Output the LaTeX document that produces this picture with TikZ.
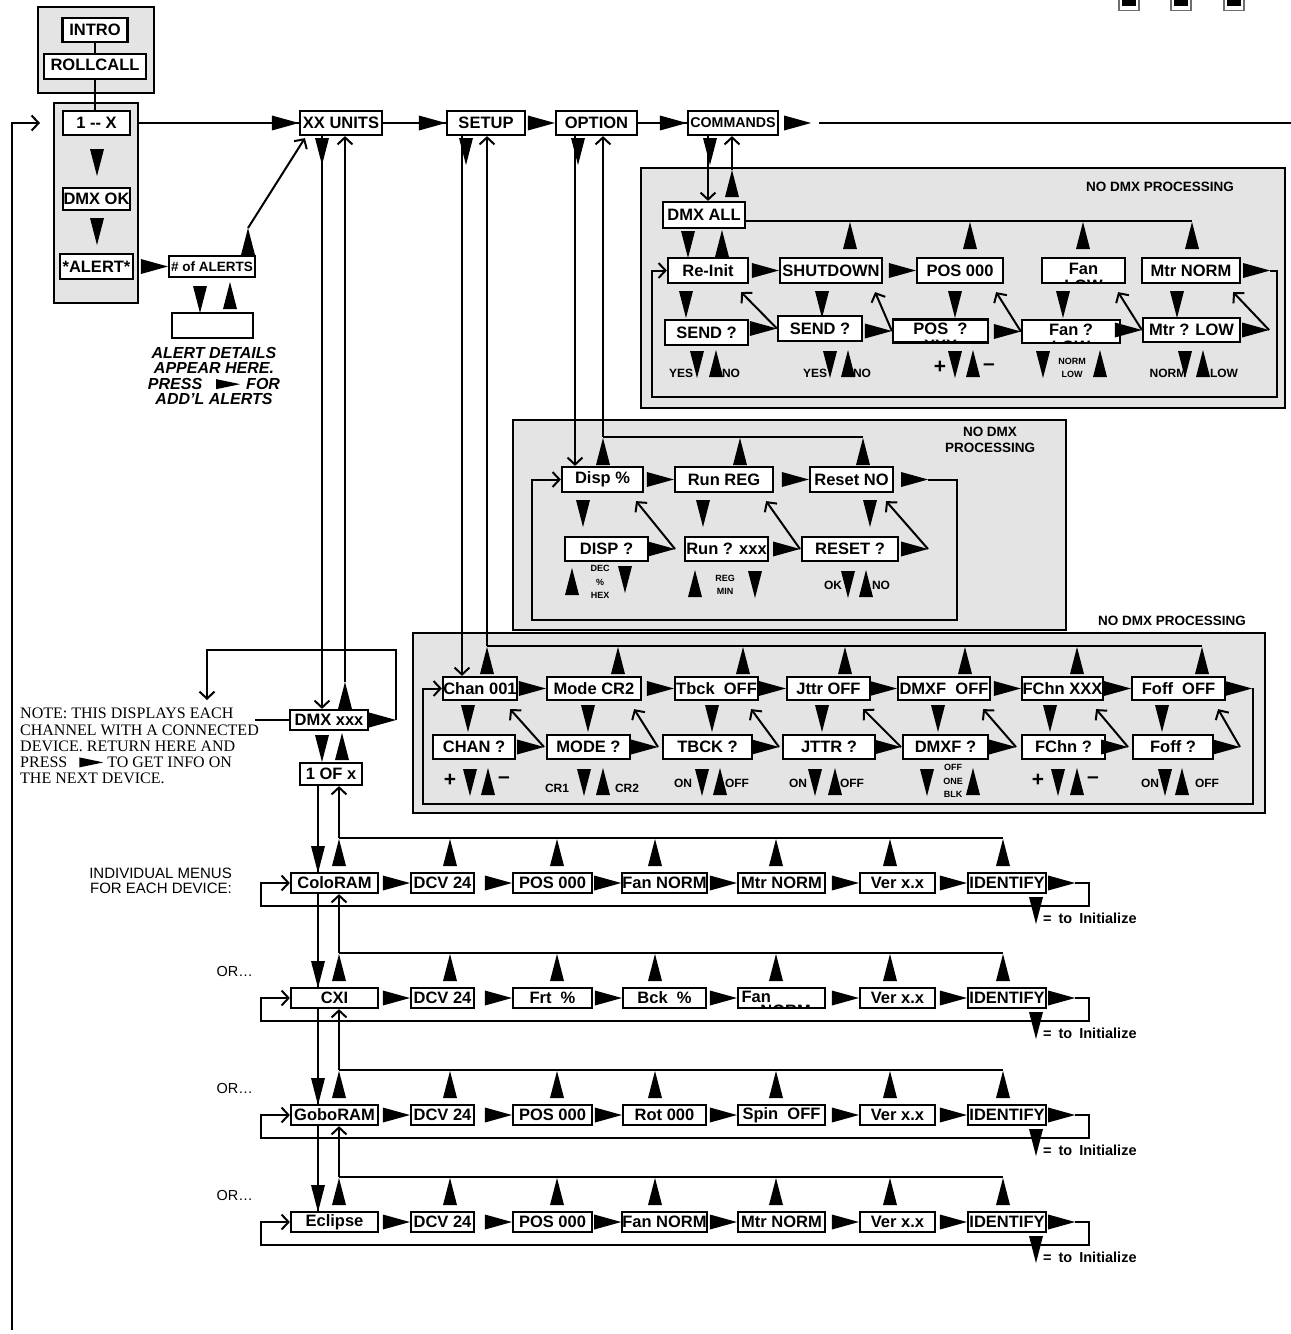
\documentclass[tikz,border=0pt]{standalone}
\usepackage{fontspec}
\setmainfont{Liberation Serif}
\setsansfont{Liberation Sans}
\usetikzlibrary{arrows.meta,positioning,calc}
\definecolor{PanelGray}{RGB}{228,228,228}
\definecolor{KeyGray}{RGB}{110,110,110}
\newcommand{\menufont}{\sffamily\bfseries\fontsize{16.5}{17}\selectfont}
\newcommand{\nexticon}{\tikz[x=1pt,y=1pt,baseline=0pt]\fill (0,0) -- (0,10) -- (24,5) -- cycle;}

\tikzset{
  box/.style={draw, line width=2.2pt, fill=white, inner sep=0pt, minimum height=24, font=\menufont},
  panel/.style={draw, line width=2.4pt, fill=PanelGray},
  wire/.style={line width=2pt},
  backarrow/.style={wire, -{Straight Barb[length=7pt,width=15pt]}},
  paneltitle/.style={font=\sffamily\bfseries\fontsize{13.5}{16}\selectfont, inner sep=0pt, align=center},
  lbl/.style={font=\sffamily\bfseries\fontsize{12}{12}\selectfont, inner sep=0pt},
  smalllbl/.style={font=\sffamily\bfseries\fontsize{9}{13.5}\selectfont, inner sep=0pt, align=center},
  pmsign/.style={font=\sffamily\bfseries\fontsize{21}{21}\selectfont, inner sep=0pt},
  initlbl/.style={font=\sffamily\bfseries\fontsize{14.5}{15}\selectfont, inner sep=0pt, anchor=west},
  cutline/.style={path picture={\node[font=\menufont, inner sep=0pt] at ([yshift=-15pt]path picture bounding box.center) {#1};}},
  cutlineleft/.style={path picture={\node[font=\menufont, inner sep=0pt, anchor=west] at ([xshift=3pt,yshift=-13pt]path picture bounding box.west) {#1};}},
  pics/rtri/.style={code={\fill (0,0) -- (-27,-7.5) -- (-27,7.5) -- cycle;}},
  pics/dtri/.style={code={\fill (0,0) -- (-7,-27) -- (7,-27) -- cycle;}},
  pics/utri/.style={code={\fill (0,0) -- (-7,27) -- (7,27) -- cycle;}},
}

\begin{document}
\begin{tikzpicture}[x=1pt, y=-1pt]
  \useasboundingbox (0,0) rectangle (1291,1334);

  % Keys (top right)
  \foreach \x [count=\i] in {1129,1181,1234} {
    \node[draw=KeyGray, line width=1.5pt, fill=white, inner sep=0pt, minimum width=20, minimum height=15] (key\i) at (\x,3) {};
    \fill (\x-7,-2) rectangle (\x+7,6);
  }

  % Power up
  \draw[panel] (38,7) rectangle (154,93);
  \node[box, minimum width=65] (intro) at (95,30) {INTRO};
  \node[box, minimum width=102, minimum height=25] (rollcall) at (95,66.5) {\raisebox{4pt}{ROLLCALL}};
  \draw[wire] (intro.south) -- (rollcall.north);
  \draw[panel] (54,103) rectangle (138,303);
  \node[box, minimum width=67] (onex) at (96.5,123) {1 -{}- X};
  \node[box, minimum width=67, minimum height=22] (dmxok) at (96.5,199) {DMX OK};
  \node[box, minimum width=73, minimum height=25] (alert) at (96.5,266.5) {*ALERT*};
  \draw[wire] (rollcall.south) -- (rollcall.south |- onex.north);
  \pic at (97,176) {dtri};
  \pic at (97,245) {dtri};

  % Return path from the bottom
  \coordinate (retstart) at (12,1330);
  \coordinate (retend) at (40,123);
  \draw[backarrow] (retstart) |- (retend);

  % Main menu
  \node[box, minimum width=82] (xx) at (341,123) {XX UNITS};
  \node[box, minimum width=78] (setup) at (486,123) {SETUP};
  \node[box, minimum width=81] (option) at (596.5,123) {OPTION};
  \node[box, minimum width=90, font=\sffamily\bfseries\fontsize{14.2}{15}\selectfont] (commands) at (733,123) {COMMANDS};
  \draw[wire] (onex.east -| 138,0) -- (xx.west);
  \pic at (xx.west) {rtri};
  \draw[wire] (xx.east) -- (setup.west);
  \pic at (setup.west) {rtri};
  \pic at (option.west) {rtri};
  \draw[wire] (option.east) -- (commands.west);
  \pic at (commands.west) {rtri};
  \coordinate (cmdtip) at ([xshift=32pt]commands.east);
  \pic at (cmdtip) {rtri};
  \coordinate (nextpage) at (1291,123);
  \draw[wire] ([xshift=8pt]cmdtip) -- (nextpage);

  % Alerts
  \node[box, minimum width=86, minimum height=21, font=\sffamily\bfseries\fontsize{13.5}{14}\selectfont] (alerts) at (212,266.5) {\# of ALERTS};
  \pic at (alerts.west) {rtri};
  \node[box, minimum width=81, minimum height=25] (details) at (212.5,325.5) {};
  \pic at (200,313) {dtri};
  \pic at (230,282) {utri};
  \node[font=\sffamily\bfseries\itshape\fontsize{16}{15.3}\selectfont, align=center, inner sep=0pt] (detailtext) at (214,376)
    {ALERT DETAILS\\APPEAR HERE.\\PRESS\hspace{14pt}\nexticon\hspace{6pt}FOR\\ADD’L ALERTS};
  \coordinate (alertsup) at (248,228);
  \pic at (alertsup) {utri};
  \draw[backarrow] (alertsup) -- ([xshift=6pt,yshift=-2pt]xx.south west);

  % Commands menu
  \draw[panel] (641,168) rectangle (1285,408);
  \node[paneltitle] (cmdtitle) at (1160,187) {NO DMX PROCESSING};
  \node[box, minimum width=82, minimum height=26] (dmxall) at (704,215) {DMX ALL};
  \pic at (710,165) {dtri};
  \draw[backarrow] (commands.south -| 708,0) -- (dmxall.north -| 708,0);
  \pic at (732,170) {utri};
  \draw[backarrow] (732,170) -- (commands.south -| 732,0);
  \coordinate (cmdret) at (1192,221);
  \draw[wire] (dmxall.east |- cmdret) -- (cmdret);
  \foreach \x in {850,970,1083,1192} \pic at (\x,222) {utri};
  \pic at (688,258) {dtri};
  \pic at (722,230) {utri};

  \node[box, minimum width=80, minimum height=25] (reinit) at (708,270.5) {Re-Init};
  \node[box, minimum width=102, minimum height=25] (shutdown) at (831,270.5) {SHUTDOWN};
  \node[box, minimum width=86, minimum height=25] (pos) at (960,270.5) {POS 000};
  \node[box, minimum width=83, minimum height=25, cutline=LOW] (fan) at (1083.5,270.5) {\raisebox{4pt}{Fan}};
  \node[box, minimum width=98, minimum height=25] (mtr) at (1191,270.5) {Mtr NORM};
  \pic at (shutdown.west) {rtri};
  \pic at (pos.west) {rtri};
  \coordinate (mtrtip) at ([xshift=29pt]mtr.east);
  \pic at (mtrtip) {rtri};
  \coordinate (cmdloopr) at (1277,397);
  \coordinate (cmdloopl) at (652,397);
  \draw[backarrow] (mtrtip) -| (cmdloopr) -- (cmdloopl) |- (reinit.west);
  \foreach \x in {686,822,955,1063,1177} \pic at (\x,318) {dtri};

  \node[box, minimum width=83, minimum height=25] (sendq) at (706.5,332.5) {SEND ?};
  \node[box, minimum width=84, minimum height=25] (sendb) at (820,328.5) {SEND ?};
  \node[box, minimum width=95, minimum height=23, cutline=XXX] (posq) at (940.5,331) {\raisebox{4pt}{POS\ \ ?}};
  \node[box, minimum width=98, minimum height=23, cutline=LOW] (fanq) at (1071,331.5) {\raisebox{4pt}{Fan ?}};
  \node[box, minimum width=97, minimum height=24] (mtrq) at (1191.5,330) {Mtr ? LOW};
  \foreach \nm/\parent in {sendb/reinit, posq/shutdown, fanq/pos, mtrq/fan} {
    \pic at (\nm.west) {rtri};
    \draw[backarrow] (\nm.west) -- ([shift={(-8pt,-8pt)}]\parent.south east);
  }
  \coordinate (mtrqtip) at ([xshift=28pt]mtrq.east);
  \pic at (mtrqtip) {rtri};
  \draw[backarrow] (mtrqtip) -- ([shift={(-8pt,-8pt)}]mtr.south east);

  \foreach \x/\txt [count=\i] in {681/YES,731/NO,815/YES,862/NO,1168/NORM,1224/LOW}
    \node[lbl] (cmdopt\i) at (\x,373) {\txt};
  \node[pmsign] (cmdplus) at (940,367) {+};
  \node[pmsign] (cmdminus) at (989,367) {–};
  \node[smalllbl] (fanopts) at (1072,368) {NORM\\LOW};
  \foreach \x in {697,830,955,1043,1185} \pic at (\x,378) {dtri};
  \foreach \x in {716,848,973,1100,1203} \pic at (\x,350) {utri};

  % Option menu
  \draw[panel] (513,420) rectangle (1066,630);
  \node[paneltitle] (opttitle) at (990,440) {NO DMX\\PROCESSING};
  \foreach \nm/\txt/\cx/\w in {disp/Disp \%/602.5/81, run/Run REG/724/98, reset/Reset NO/851.5/83}
    \node[box, minimum width=\w, minimum height=25] (\nm) at (\cx,479.5) {\txt};
  \pic at (578,165) {dtri};
  \draw[backarrow] (option.south -| 575,0) -- (disp.north -| 575,0);
  \coordinate (optret) at (603,437);
  \coordinate (optretend) at (863,437);
  \draw[wire] (optret) -- (optretend);
  \draw[backarrow] (optret) -- (option.south -| optret);
  \foreach \x in {603,740,863} \pic at (\x,438) {utri};
  \pic at (run.west) {rtri};
  \pic at (reset.west) {rtri};
  \coordinate (opttip) at ([xshift=34pt]reset.east);
  \pic at (opttip) {rtri};
  \coordinate (optloopr) at (957,620);
  \coordinate (optloopl) at (532,620);
  \draw[backarrow] (opttip) -| (optloopr) -- (optloopl) |- (disp.west);
  \foreach \x in {583,703,870} \pic at (\x,527) {dtri};

  \foreach \nm/\txt/\cx/\w in {dispq/DISP ?/606.5/83, runq/Run ? xxx/726.5/83, resetq/RESET ?/850/96}
    \node[box, minimum width=\w, minimum height=24] (\nm) at (\cx,549) {\txt};
  \foreach \tipx/\parent in {675/disp, 800/run, 928/reset} {
    \pic at (\tipx,549) {rtri};
    \draw[backarrow] (\tipx,549) -- ([shift={(-8pt,-8pt)}]\parent.south east);
  }
  \pic at (572,568) {utri};
  \node[smalllbl] (dispopts) at (600,582) {DEC\\\%\\HEX};
  \pic at (625,593) {dtri};
  \pic at (695,570) {utri};
  \node[smalllbl] (runopts) at (725,585) {REG\\MIN};
  \pic at (755,598) {dtri};
  \node[lbl] (resetok) at (833,585) {OK};
  \pic at (848,598) {dtri};
  \pic at (866,570) {utri};
  \node[lbl] (resetno) at (881,585) {NO};

  % Setup menu
  \draw[panel] (413,633) rectangle (1265,813);
  \node[paneltitle] (setuptitle) at (1172,621) {NO DMX PROCESSING};
  \foreach \nm/\txt/\cx/\w in {chan/Chan 001/480/74, mode/Mode CR2/594/94, tbck/Tbck\ \ OFF/716.5/83, jttr/Jttr OFF/828.5/83,
                              dmxf/DMXF\ \ OFF/944/92, fchn/FChn XXX/1062.5/81, foff/Foff\ \ OFF/1178.5/93}
    \node[box, minimum width=\w, minimum height=23] (\nm) at (\cx,688.5) {\txt};
  \pic at (466,165) {dtri};
  \draw[backarrow] (setup.south -| 462,0) -- (chan.north -| 462,0);
  \coordinate (setupret) at (487,646);
  \coordinate (setupretend) at (1202,646);
  \draw[wire] (setupret) -- (setupretend);
  \draw[backarrow] (setupret) -- (setup.south -| setupret);
  \foreach \x in {487,618,743,845,965,1077,1202} \pic at (\x,647) {utri};
  \foreach \nm in {mode,tbck,jttr,dmxf,fchn,foff} \pic at (\nm.west) {rtri};
  \coordinate (setuptip) at ([xshift=26pt]foff.east);
  \pic at (setuptip) {rtri};
  \coordinate (setuploopr) at (1253,804);
  \coordinate (setuploopl) at (423,804);
  \draw[backarrow] (setuptip) -| (setuploopr) -- (setuploopl) |- (chan.west);
  \foreach \x in {468,588,712,822,938,1050,1162} \pic at (\x,732) {dtri};

  \foreach \nm/\txt/\cx/\w in {chanq/CHAN ?/474/82, modeq/MODE ?/588.5/83, tbckq/TBCK ?/707.5/89, jttrq/JTTR ?/829/92,
                              dmxfq/DMXF ?/945.5/85, fchnq/FChn ?/1063.5/83, foffq/Foff ?/1173/80}
    \node[box, minimum width=\w, minimum height=24] (\nm) at (\cx,747) {\txt};
  \foreach \tipx/\parent in {544/chan, 658/mode, 779/tbck, 901/jttr, 1016/dmxf, 1128/fchn, 1240/foff} {
    \pic at (\tipx,747) {rtri};
    \draw[backarrow] (\tipx,747) -- ([shift={(-8pt,-8pt)}]\parent.south east);
  }
  \foreach \x/\txt [count=\i] in {557/CR1,627/CR2}
    \node[lbl] (modeopt\i) at (\x,788) {\txt};
  \foreach \x/\txt [count=\i] in {683/ON,737/OFF,798/ON,852/OFF,1150/ON,1207/OFF}
    \node[lbl] (swopt\i) at (\x,783) {\txt};
  \foreach \x/\txt [count=\i] in {450/+,504/–,1038/+,1093/–}
    \node[pmsign] (setsign\i) at (\x,780) {\txt};
  \node[smalllbl] (dmxfopts) at (953,781) {OFF\\ONE\\BLK};
  \foreach \x in {470,584,702,815,927,1058,1165} \pic at (\x,796) {dtri};
  \foreach \x in {488,603,720,835,973,1077,1182} \pic at (\x,768) {utri};

  % DMX channel list
  \node[box, minimum width=78, minimum height=20] (dmx) at (329,720) {DMX xxx};
  \pic at (322,165) {dtri};
  \draw[backarrow] (xx.south -| 322,0) -- (dmx.north -| 322,0);
  \pic at (345,682) {utri};
  \draw[backarrow] (345,682) -- (xx.south -| 345,0);
  \coordinate (dmxtip) at ([xshift=27pt]dmx.east);
  \pic at (dmxtip) {rtri};
  \coordinate (dmxloop) at (207,650);
  \coordinate (dmxback) at (207,700);
  \draw[backarrow] (dmxtip) |- (dmxloop) -- (dmxback);
  \node[anchor=north west, align=left, inner sep=0pt, font=\rmfamily\fontsize{16}{16.2}\selectfont] (note) at (20,708)
    {NOTE: THIS DISPLAYS EACH\\CHANNEL WITH A CONNECTED\\DEVICE. RETURN HERE AND\\PRESS\hspace{12pt}\nexticon\hspace{4pt}TO GET INFO ON\\THE NEXT DEVICE.};
  \coordinate (noteptr) at (255,720);
  \draw[wire] (noteptr) -- (dmx.west);
  \pic at (322,762) {dtri};
  \pic at (342,733) {utri};
  \node[box, minimum width=62, minimum height=22] (oneof) at (331,774) {1 OF x};

  % Device menus
  \node[anchor=east, align=right, inner sep=0pt, font=\sffamily\fontsize{15}{15}\selectfont] (indiv) at (232,881)
    {INDIVIDUAL MENUS\\FOR EACH DEVICE:};
  \foreach \row/\y/\first/\third/\fourth/\fifth in {1/883/ColoRAM/POS 000/Fan NORM/Mtr NORM,
                                                    2/998/CXI/Frt\ \ \%/Bck\ \ \%/Fan,
                                                    3/1115/GoboRAM/POS 000/Rot 000/Spin\ \ OFF,
                                                    4/1222/Eclipse/POS 000/Fan NORM/Mtr NORM} {
    \node[box, minimum width=87, minimum height=20] (dev\row1) at (334.5,\y) {\first};
    \node[box, minimum width=63, minimum height=20] (dev\row2) at (442.5,\y) {DCV 24};
    \node[box, minimum width=79, minimum height=20] (dev\row3) at (552.5,\y) {\third};
    \node[box, minimum width=83, minimum height=20] (dev\row4) at (664.5,\y) {\fourth};
    \ifnum\row=2\relax
      \node[box, minimum width=87, minimum height=20, cutlineleft=NORM] (dev\row5) at (781.5,\y) {\makebox[80pt][l]{\raisebox{3pt}{Fan}}};
    \else
      \node[box, minimum width=87, minimum height=20] (dev\row5) at (781.5,\y) {\fifth};
    \fi
    \node[box, minimum width=75, minimum height=20] (dev\row6) at (897.5,\y) {Ver x.x};
    \node[box, minimum width=78, minimum height=20] (dev\row7) at (1007,\y) {IDENTIFY};
    \foreach \k in {2,...,7} \pic at (dev\row\k.west) {rtri};
    \coordinate (devtip\row) at ([xshift=28pt]dev\row7.east);
    \pic at (devtip\row) {rtri};
    \coordinate (devloopr\row) at (1089,\y+23);
    \coordinate (devloopl\row) at (261,\y+23);
    \draw[backarrow] (devtip\row) -| (devloopr\row) -- (devloopl\row) |- (dev\row1.west);
    \coordinate (devret\row) at (339,\y-45);
    \coordinate (devretend\row) at (1003,\y-45);
    \draw[wire] (devret\row) -- (devretend\row);
    \foreach \x in {339,450,557,655,776,890,1003} \pic at (\x,\y-44) {utri};
    \pic at (1036,\y+41) {dtri};
    \node[initlbl] (init\row) at (1043,\y+35) {=\hspace{7pt}to\hspace{7pt}Initialize};
    \pic at (318,\y-10) {dtri};
  }
  \foreach \row/\y in {2/998,3/1115,4/1222}
    \node[anchor=east, inner sep=0pt, font=\sffamily\fontsize{14.5}{14.5}\selectfont] (or\row) at (253,\y-27) {OR…};
  \foreach \a/\b in {oneof/dev11, dev11/dev21, dev21/dev31, dev31/dev41}
    \draw[wire] (\a.south -| 318,0) -- (\b.north -| 318,0);
  \foreach \a/\row in {oneof/1, dev11/2, dev21/3, dev31/4}
    \draw[backarrow] (devret\row) -- (\a.south -| devret\row);
\end{tikzpicture}
\end{document}
